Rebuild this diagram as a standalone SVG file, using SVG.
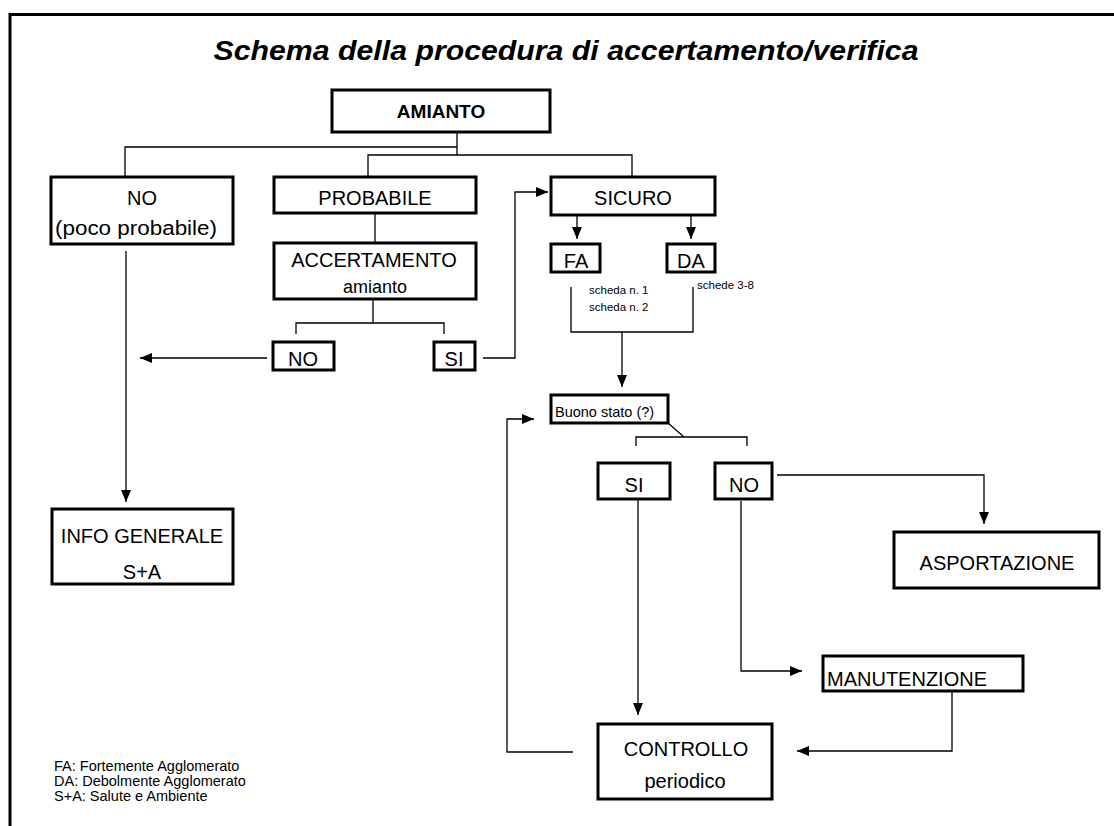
<svg xmlns="http://www.w3.org/2000/svg" width="1114" height="826" viewBox="0 0 1114 826">
<style>
text{font-family:"Liberation Sans",Arial,sans-serif;fill:#000}
.box{fill:#fff;stroke:#000;stroke-width:3}
.ln{fill:none;stroke:#000;stroke-width:1.3}
.m{font-size:20px;text-anchor:middle}
.s{font-size:11.5px}
.lg{font-size:14.5px}
</style>
<defs>
<marker id="ah" viewBox="0 0 12 10" refX="12" refY="5" markerWidth="12" markerHeight="10" markerUnits="userSpaceOnUse" orient="auto">
<path d="M0,0 L12,5 L0,10 Z" fill="#000"/>
</marker>
</defs>
<rect width="1114" height="826" fill="#fff"/>
<g id="frame">
<path d="M10,826 V14.5 H1114" fill="none" stroke="#000" stroke-width="3"/>
</g>
<text x="566" y="60" font-size="28" font-weight="bold" font-style="italic" text-anchor="middle" textLength="705" lengthAdjust="spacingAndGlyphs">Schema della procedura di accertamento/verifica</text>
<g id="connectors">
<path class="ln" d="M457,132 V155 M125,176 V147 H457 M368,176 V155 H632 V177"/>
<path class="ln" d="M375,213 V243"/>
<path class="ln" d="M373,299 V323 M296,334 V323 H444 V334"/>
<path class="ln" d="M267,358 H140" marker-end="url(#ah)"/>
<path class="ln" d="M483,358 H515 V192 H548" marker-end="url(#ah)"/>
<path class="ln" d="M126,251 V502" marker-end="url(#ah)"/>
<path class="ln" d="M577,215 V239" marker-end="url(#ah)"/>
<path class="ln" d="M691,215 V239" marker-end="url(#ah)"/>
<path class="ln" d="M571,287 V332 H693 V287"/>
<path class="ln" d="M622,332 V387" marker-end="url(#ah)"/>
<path class="ln" d="M668,423 L684,437 M636,446 V437 H747 V446"/>
<path class="ln" d="M777,475 H984 V524" marker-end="url(#ah)"/>
<path class="ln" d="M741,501 V671 H802" marker-end="url(#ah)"/>
<path class="ln" d="M952,691 V751 H797" marker-end="url(#ah)"/>
<path class="ln" d="M638,499 V715" marker-end="url(#ah)"/>
<path class="ln" d="M573,752 H507 V419 H534" marker-end="url(#ah)"/>
</g>
<g id="amianto"><rect class="box" x="332" y="90" width="218" height="42"/><text x="441" y="118" font-size="19" font-weight="bold" text-anchor="middle">AMIANTO</text></g>
<g id="no-poco"><rect class="box" x="51" y="177" width="182" height="67"/><text class="m" x="142" y="205">NO</text><text class="m" x="136" y="235" textLength="162" lengthAdjust="spacingAndGlyphs">(poco probabile)</text></g>
<g id="probabile"><rect class="box" x="274" y="177" width="202" height="36"/><text class="m" x="375" y="205">PROBABILE</text></g>
<g id="accertamento"><rect class="box" x="274" y="243" width="202" height="56"/><text class="m" x="374" y="267">ACCERTAMENTO</text><text x="375" y="293" font-size="18" text-anchor="middle">amianto</text></g>
<g id="no-acc"><rect class="box" x="273" y="342" width="61" height="28"/><text class="m" x="303" y="366">NO</text></g>
<g id="si-acc"><rect class="box" x="434" y="342" width="41" height="28"/><text class="m" x="454" y="366">SI</text></g>
<g id="sicuro"><rect class="box" x="551" y="177" width="164" height="38"/><text class="m" x="633" y="205">SICURO</text></g>
<g id="fa"><rect class="box" x="551" y="244" width="49" height="28"/><text class="m" x="576" y="268">FA</text></g>
<g id="da"><rect class="box" x="667" y="244" width="48" height="28"/><text class="m" x="691" y="268">DA</text></g>
<g id="schede"><text class="s" x="589" y="294">scheda n. 1</text><text class="s" x="589" y="311">scheda n. 2</text><text class="s" x="697" y="289">schede 3-8</text></g>
<g id="buono"><rect class="box" x="551" y="395" width="117" height="28"/><text x="555" y="417" font-size="14.5">Buono stato (?)</text></g>
<g id="si-b"><rect class="box" x="598" y="463" width="72" height="36"/><text class="m" x="634" y="492">SI</text></g>
<g id="no-b"><rect class="box" x="715" y="463" width="57" height="36"/><text class="m" x="744" y="492">NO</text></g>
<g id="asportazione"><rect class="box" x="894" y="532" width="205" height="56"/><text class="m" x="997" y="570">ASPORTAZIONE</text></g>
<g id="manutenzione"><rect class="box" x="823" y="656" width="200" height="35"/><text x="827" y="686" font-size="20">MANUTENZIONE</text></g>
<g id="controllo"><rect class="box" x="598" y="724" width="174" height="75"/><text class="m" x="686" y="756">CONTROLLO</text><text class="m" x="685" y="788">periodico</text></g>
<g id="info"><rect class="box" x="52" y="509" width="181" height="75"/><text class="m" x="142" y="543">INFO GENERALE</text><text class="m" x="142" y="579">S+A</text></g>
<g id="legend"><text class="lg" x="54" y="771">FA: Fortemente Agglomerato</text><text class="lg" x="54" y="786">DA: Debolmente Agglomerato</text><text class="lg" x="54" y="801">S+A: Salute e Ambiente</text></g>
</svg>
